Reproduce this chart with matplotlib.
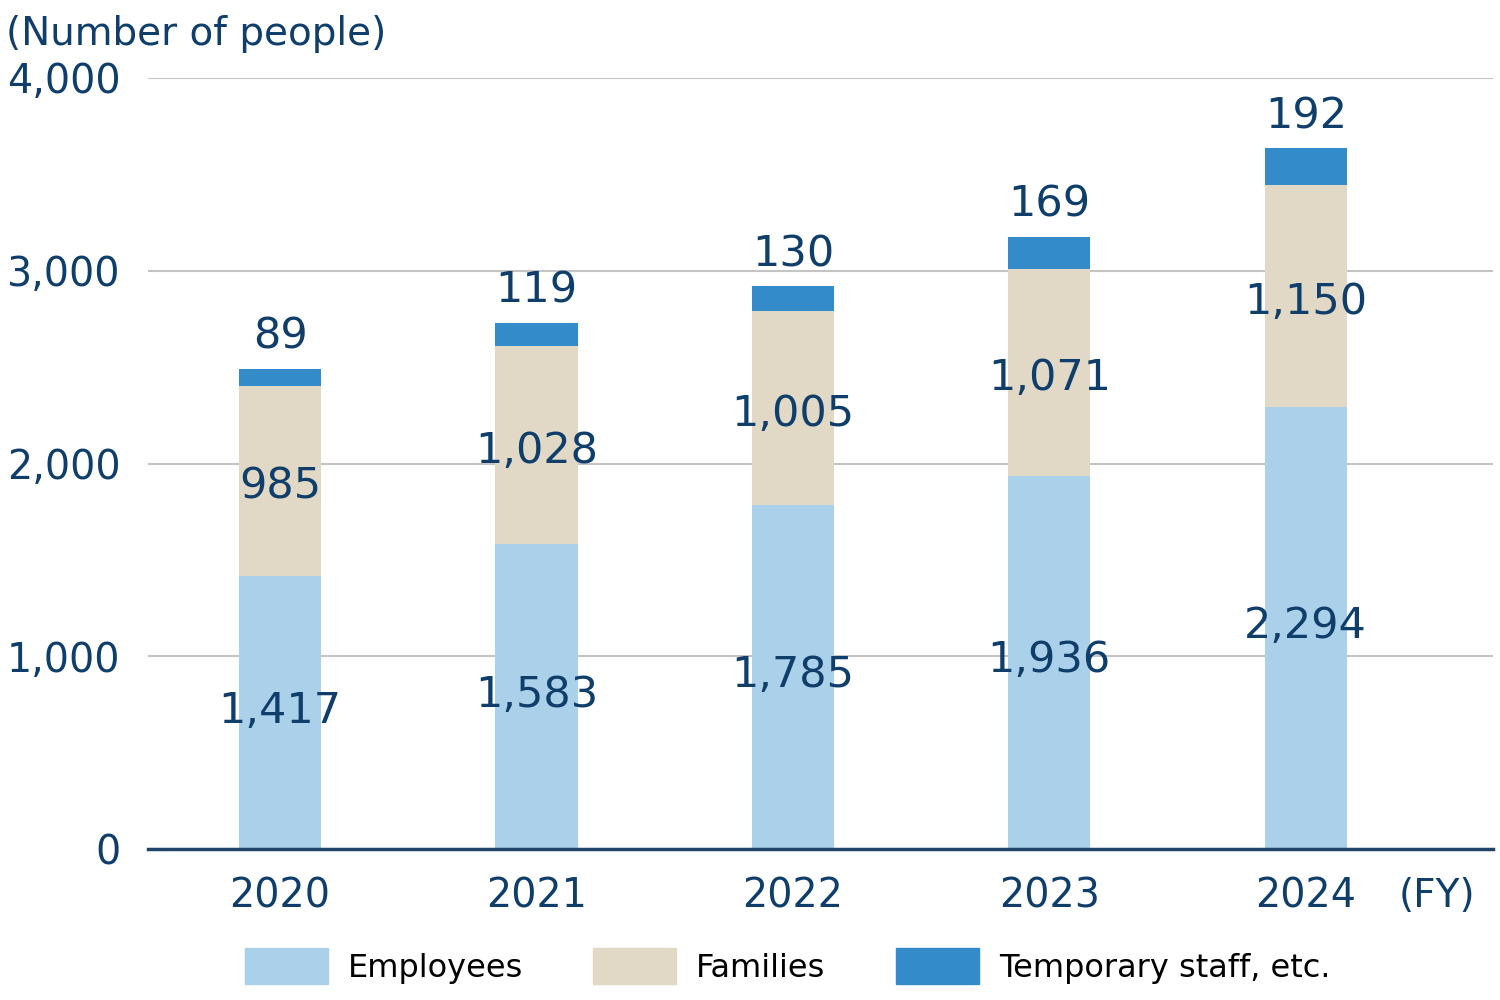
import numpy as np
import matplotlib.pyplot as plt
from matplotlib.patches import Patch

plt.rcParams['font.family'] = ['DejaVu Sans', 'Noto Sans CJK JP']

# data
years = ['2020', '2021', '2022', '2023', '2024']
employees = [1417, 1583, 1785, 1936, 2294]
families = [985, 1028, 1005, 1071, 1150]
temporary = [89, 119, 130, 169, 192]

navy = '#0f3e6b'
col_emp = '#abd0ea'
col_fam = '#e1d9c5'
col_tmp = '#348bca'

fig = plt.figure(figsize=(15, 10), dpi=100)
ax = fig.add_axes([0.0987, 0.151, 0.8966, 0.771])

x = np.arange(len(years))
w = 0.32
emp = np.array(employees)
fam = np.array(families)
tmp = np.array(temporary)

ax.bar(x, emp, w, color=col_emp, zorder=2)
ax.bar(x, fam, w, bottom=emp, color=col_fam, zorder=2)
ax.bar(x, tmp, w, bottom=emp + fam, color=col_tmp, zorder=2)

# value labels
for i in range(len(years)):
    ax.text(x[i], emp[i] / 2 + 10, f'{emp[i]:,}', ha='center', va='center',
            fontsize=31, color=navy, zorder=3)
    ax.text(x[i], emp[i] + fam[i] / 2 - 30, f'{fam[i]:,}', ha='center', va='center',
            fontsize=31, color=navy, zorder=3)
    ax.annotate(f'{tmp[i]:,}', (x[i], emp[i] + fam[i] + tmp[i]),
                xytext=(0, 23), textcoords='offset points',
                ha='center', va='center', fontsize=31, color=navy, zorder=3)

ax.set_xlim(-0.515, 4.73)
ax.set_ylim(0, 4000)
ax.set_yticks(range(0, 4001, 1000))
ax.set_yticklabels([f'{v:,}' for v in range(0, 4001, 1000)])
ax.set_xticks(x)
ax.set_xticklabels(years)
ax.tick_params(axis='both', length=0, labelsize=28.5, labelcolor=navy)
ax.tick_params(axis='y', pad=20)
ax.tick_params(axis='x', pad=20)
ax.yaxis.grid(True, color='#c4c4c4', linewidth=1.5, zorder=0)
ax.set_axisbelow(True)
for s in ['top', 'right', 'left']:
    ax.spines[s].set_visible(False)
ax.spines['bottom'].set_color('#1f4468')
ax.spines['bottom'].set_linewidth(2.5)
ax.spines['bottom'].set_zorder(4)

fig.text(0.004, 0.966, '(Number of people)', fontsize=28, color=navy,
         ha='left', va='center')
fig.text(0.958, 0.104, '(FY)', fontsize=28, color=navy,
         ha='center', va='center')

handles = [Patch(color=col_emp), Patch(color=col_fam), Patch(color=col_tmp)]
fig.legend(handles, ['Employees', 'Families', 'Temporary staff, etc.'],
           loc='center', bbox_to_anchor=(0.525, 0.034), ncol=3, frameon=False,
           fontsize=23, handlelength=2.6, handleheight=1.35, handletextpad=0.62,
           columnspacing=2.2, borderpad=0)

fig.savefig('out.png', dpi=100)
